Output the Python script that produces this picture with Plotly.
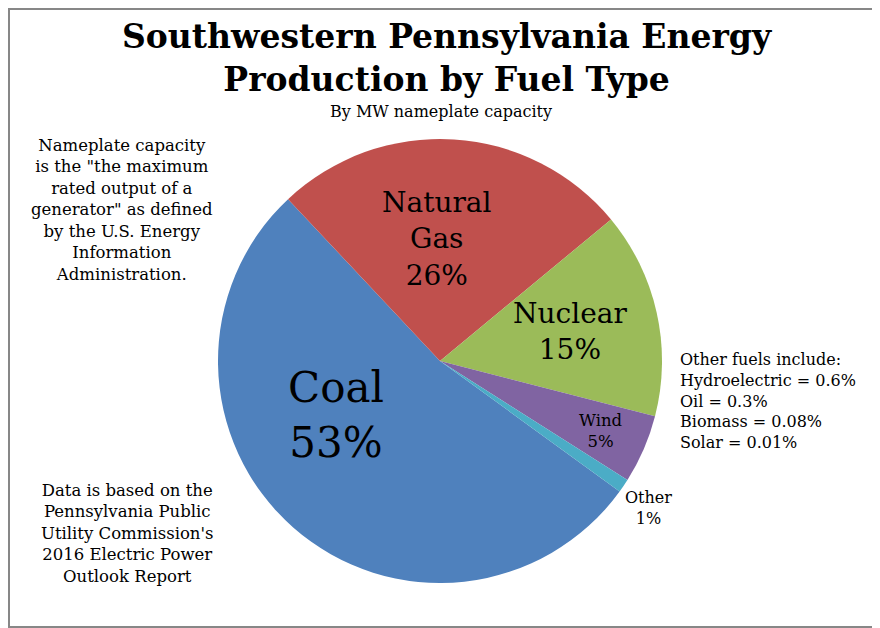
import plotly.graph_objects as go

# Fuel shares by MW nameplate capacity (percent)
fuels = ['Coal', 'Natural<br>Gas', 'Nuclear', 'Wind', 'Other']
shares = [53, 26, 15, 5, 1]
colors = ['#4F81BD', '#C0504D', '#9BBB59', '#8064A2', '#4BACC6']

other_fuels = ['Hydroelectric', 'Oil', 'Biomass', 'Solar']
other_shares = ['0.6', '0.3', '0.08', '0.01']

# the page body has an 8px margin, so the figure is a bit smaller
# and everything is placed 8px up/left of where it sits in the picture
OFF = 8
W, H = 880 - OFF, 628 - OFF
FONT = 'DejaVu Serif'


def px(x, y):
    # picture pixel position -> paper coords (no margins)
    return (x - OFF) / W, 1 - (y - OFF) / H


def note(x, y, text, size, bold=False, xanchor='center', align='center'):
    ax, ay = px(x, y)
    if bold:
        text = f'<b>{text}</b>'
    fig.add_annotation(x=ax, y=ay, xref='paper', yref='paper',
                       xanchor=xanchor, yanchor='middle',
                       text=text, showarrow=False, align=align,
                       font=dict(family=FONT, size=size, color='black'))


x0, y1 = px(218, 139)
x1, y0 = px(662, 583)
fig = go.Figure(go.Pie(
    labels=fuels,
    values=shares,
    marker=dict(colors=colors, line=dict(width=0)),
    sort=False,
    direction='clockwise',
    rotation=126,
    textinfo='none',
    hoverinfo='label+percent',
    domain=dict(x=[x0, x1], y=[y0, y1]),
    showlegend=False,
))

# slice labels: (x, y, font size) in picture pixels
label_pos = {
    'Coal': (336, 415, 42),
    'Natural<br>Gas': (437, 239, 28),
    'Nuclear': (570, 331, 28),
    'Wind': (601, 431, 16.5),
    'Other': (648, 508, 16),
}
for name, val in zip(fuels, shares):
    x, y, size = label_pos[name]
    note(x, y, f'{name}<br>{val}%', size)

# title and subtitle
note(447, 58, 'Southwestern Pennsylvania Energy<br>Production by Fuel Type', 33, bold=True)
note(441, 112, 'By MW nameplate capacity', 16)

# side notes
note(122, 210, ('Nameplate capacity<br>is the "the maximum<br>rated output of a<br>'
                'generator" as defined<br>by the U.S. Energy<br>Information<br>Administration.'),
     16.5)
note(127, 533, ("Data is based on the<br>Pennsylvania Public<br>Utility Commission's<br>"
                '2016 Electric Power<br>Outlook Report'), 16.5)

other_text = 'Other fuels include:<br>' + '<br>'.join(
    f'{f} = {s}%' for f, s in zip(other_fuels, other_shares))
note(678, 401, other_text, 16, xanchor='left', align='left')

# grey frame around the chart area
fig.add_shape(type='rect', xref='paper', yref='paper',
              x0=1 / W, y0=1 / H, x1=1 - 1 / W, y1=1 - 1 / H,
              line=dict(color='#878787', width=2))

fig.update_layout(
    width=W, height=H,
    margin=dict(l=0, r=0, t=0, b=0),
    paper_bgcolor='white',
    plot_bgcolor='white',
)

fig.write_html('out.html')
